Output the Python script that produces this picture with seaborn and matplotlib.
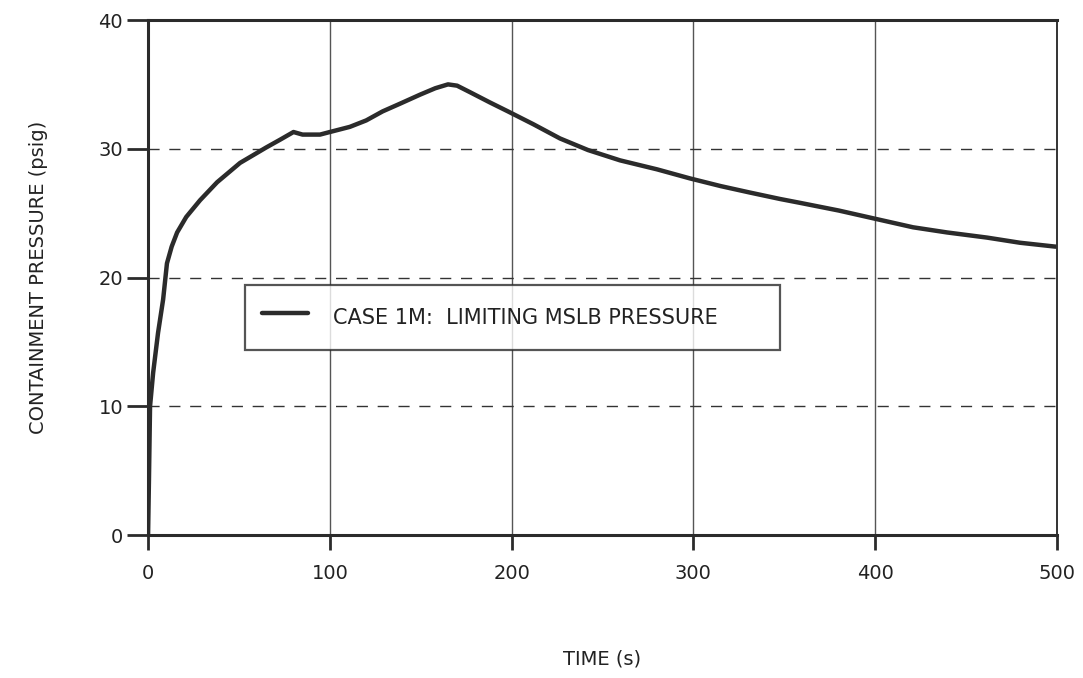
import numpy as np
import pandas as pd
import seaborn as sns
import matplotlib.pyplot as plt

# containment pressure transient
time_s = [0, 0.5, 1.1, 2.8, 5.5, 8.3, 10.4, 13, 16, 21, 28.6, 38, 50.6, 65, 72.6, 80,
          85, 94.6, 100, 111, 120, 129, 138.6, 149.6, 158, 165, 170, 177, 188, 198,
          212, 226.6, 242, 259.6, 280, 298, 315, 331, 347.6, 358.6, 380, 398.8,
          420.8, 439.5, 461.5, 479.6, 499, 500]
pressure_psig = [0, 4.3, 10.0, 12.6, 15.7, 18.3, 21.1, 22.4, 23.5, 24.7, 26.0, 27.4, 28.9,
                 30.1, 30.7, 31.3, 31.1, 31.1, 31.3, 31.7, 32.2, 32.9, 33.5, 34.2, 34.7,
                 35.0, 34.9, 34.4, 33.6, 32.9, 31.9, 30.8, 29.9, 29.1, 28.4, 27.7, 27.1,
                 26.6, 26.1, 25.8, 25.2, 24.6, 23.9, 23.5, 23.1, 22.7, 22.4, 22.4]

df = pd.DataFrame({'time': time_s, 'pressure': pressure_psig})

sns.set_style('white')
plt.rcParams['font.family'] = ['DejaVu Sans']

fig = plt.figure(figsize=(10.83, 6.78), dpi=100)
ax = fig.add_axes([0.1367, 0.2109, 0.8393, 0.7596])

sns.lineplot(data=df, x='time', y='pressure', ax=ax, color='#2b2b2b', linewidth=3.2,
             label='CASE 1M:  LIMITING MSLB PRESSURE')

ax.set_xlim(0, 500)
ax.set_ylim(0, 40)
ax.set_xticks([0, 100, 200, 300, 400, 500])
ax.set_yticks([0, 10, 20, 30, 40])

# grid: solid verticals, dashed horizontals
for xv in [100, 200, 300, 400]:
    ax.axvline(xv, color='#555555', lw=1.0, zorder=0)
for yv in [10, 20, 30]:
    ax.axhline(yv, color='#333333', lw=1.0, ls=(0, (8, 7)), zorder=0)

for side in ['left', 'top', 'bottom']:
    ax.spines[side].set_linewidth(2.2)
    ax.spines[side].set_color('#2b2b2b')
ax.spines['right'].set_linewidth(1.4)
ax.spines['right'].set_color('#333333')

ax.tick_params(axis='y', direction='out', length=15, width=2, color='#2b2b2b',
               labelsize=14, pad=3, left=True, labelcolor='#222222')
ax.tick_params(axis='x', direction='out', length=11, width=2, color='#2b2b2b',
               labelsize=14, pad=10, bottom=True, labelcolor='#222222')

ax.set_xlabel('TIME (s)', fontsize=14, labelpad=48, color='#222222')
ax.set_ylabel('CONTAINMENT PRESSURE (psig)', fontsize=14, labelpad=36, color='#222222')

leg = ax.legend(loc='upper left', bbox_to_anchor=(0.1067, 0.34, 0.5886, 0.1456),
                mode='expand', fontsize=15, frameon=True, fancybox=False,
                handlelength=2.2, handleheight=2.0, handletextpad=1.2,
                borderpad=0.8, borderaxespad=0)
leg.get_frame().set_edgecolor('#2b2b2b')
leg.get_frame().set_linewidth(1.6)
for line in leg.get_lines():
    line.set_linewidth(3.2)
for t in leg.get_texts():
    t.set_color('#222222')

fig.savefig('out.png', dpi=100)
